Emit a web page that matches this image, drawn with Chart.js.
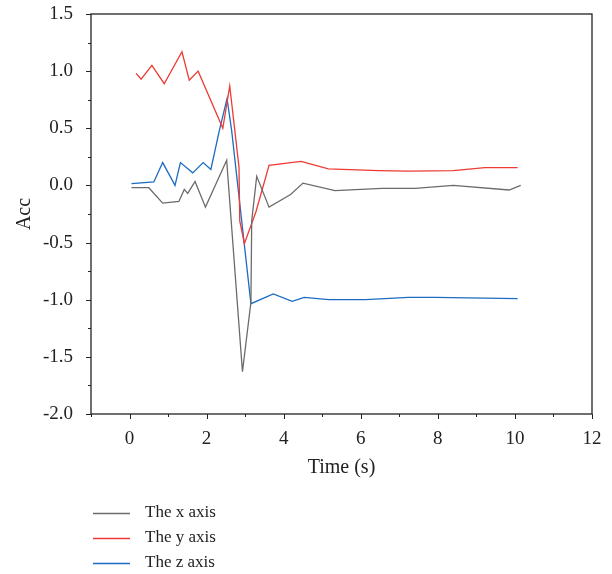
<!DOCTYPE html>
<html>
<head>
    <title>Acc vs Time</title>
    <script src="https://cdn.jsdelivr.net/npm/chart.js"></script>
    <style>
      body { margin: 0; background: #fff; }
    </style>
</head>
<body>
    <canvas id="chart" width="612" height="574"></canvas>

    <script>
    // x axis acceleration
    const xTime = [0.05, 0.5, 0.86, 1.28, 1.42, 1.51, 1.70, 1.97, 2.52, 2.93, 3.15, 3.17, 3.30, 3.62, 4.18, 4.5, 5.33, 6.55, 7.41, 8.4, 9.85, 10.15];
    const xAcc  = [-0.02, -0.02, -0.155, -0.14, -0.035, -0.07, 0.035, -0.19, 0.22, -1.63, -1.02, -0.31, 0.08, -0.19, -0.08, 0.02, -0.045, -0.025, -0.025, 0.0, -0.04, 0.0];

    // y axis acceleration
    const yTime = [0.17, 0.30, 0.58, 0.90, 1.36, 1.55, 1.78, 2.42, 2.60, 2.84, 2.86, 2.98, 3.28, 3.62, 4.45, 5.16, 6.46, 7.24, 8.4, 9.22, 10.07];
    const yAcc  = [0.98, 0.93, 1.05, 0.89, 1.17, 0.92, 1.00, 0.50, 0.87, 0.16, -0.31, -0.51, -0.23, 0.175, 0.21, 0.145, 0.13, 0.125, 0.13, 0.155, 0.155];

    // z axis acceleration
    const zTime = [0.05, 0.63, 0.86, 1.18, 1.32, 1.64, 1.91, 2.11, 2.33, 2.53, 2.65, 3.15, 3.73, 4.22, 4.53, 5.17, 6.12, 7.24, 7.93, 10.07];
    const zAcc  = [0.015, 0.03, 0.2, 0.0, 0.2, 0.11, 0.2, 0.14, 0.48, 0.76, 0.48, -1.035, -0.95, -1.015, -0.98, -1.0, -1.0, -0.98, -0.98, -0.99];

    const seriesNames = ['The x axis', 'The y axis', 'The z axis'];

    const pairs = (t, v) => t.map((x, i) => ({ x: x, y: v[i] }));

    const FONT = "'Liberation Serif', 'DejaVu Serif', serif";
    const INK = '#222';

    // box frame, outward ticks (major/minor) and legend below the plot
    const decor = {
      id: 'decor',
      afterDraw(chart) {
        const ctx = chart.ctx;
        const a = chart.chartArea;
        ctx.save();
        ctx.strokeStyle = INK;
        ctx.lineWidth = 1.3;
        ctx.strokeRect(a.left, a.top, a.right - a.left, a.bottom - a.top);

        ctx.lineWidth = 1;
        const xs = chart.scales.x, ys = chart.scales.y;
        ctx.beginPath();
        xs.ticks.forEach(t => {
          const px = Math.round(xs.getPixelForValue(t.value)) + 0.5;
          const len = t.label !== '' ? 5 : 3;
          ctx.moveTo(px, a.bottom);
          ctx.lineTo(px, a.bottom + len);
        });
        ys.ticks.forEach(t => {
          const py = Math.round(ys.getPixelForValue(t.value)) + 0.5;
          const len = t.label !== '' ? 5 : 3;
          ctx.moveTo(a.left, py);
          ctx.lineTo(a.left - len, py);
        });
        ctx.stroke();

        // legend
        ctx.font = '17px ' + FONT;
        ctx.textBaseline = 'middle';
        ctx.fillStyle = INK;
        chart.data.datasets.forEach((ds, i) => {
          const y = a.bottom + 99 + i * 25;
          ctx.strokeStyle = ds.borderColor;
          ctx.lineWidth = 1.3;
          ctx.beginPath();
          ctx.moveTo(a.left + 2, y + 0.5);
          ctx.lineTo(a.left + 39, y + 0.5);
          ctx.stroke();
          ctx.fillText(ds.label, a.left + 54, y);
        });
        ctx.restore();
      }
    };

    const ctx = document.getElementById('chart').getContext('2d');
    const chart = new Chart(ctx, {
      type: 'line',
      data: {
        datasets: [
          { label: seriesNames[0], data: pairs(xTime, xAcc), borderColor: '#6b6b6b' },
          { label: seriesNames[1], data: pairs(yTime, yAcc), borderColor: '#ee3a34' },
          { label: seriesNames[2], data: pairs(zTime, zAcc), borderColor: '#1b6cc2' }
        ]
      },
      options: {
        responsive: false,
        animation: false,
        layout: { padding: { left: 0, right: 20, top: 14, bottom: 90 } },
        elements: {
          point: { radius: 0 },
          line: { borderWidth: 1.3, tension: 0, fill: false }
        },
        plugins: {
          legend: { display: false },
          tooltip: { enabled: false }
        },
        scales: {
          x: {
            type: 'linear',
            min: -1, max: 12,
            afterFit: s => { s.height = 70; },
            grid: { drawOnChartArea: false, drawTicks: true, tickLength: 5, tickColor: 'rgba(0,0,0,0)' },
            border: { display: false },
            ticks: {
              stepSize: 1, autoSkip: false, maxRotation: 0, padding: 9,
              color: INK, font: { family: FONT, size: 19 },
              callback: v => (v % 2 === 0 ? String(v) : '')
            },
            title: {
              display: true, text: 'Time (s)', color: INK,
              font: { family: FONT, size: 20 }, padding: { top: 0, bottom: 4 }
            }
          },
          y: {
            type: 'linear',
            min: -2, max: 1.5,
            afterFit: s => { s.width = 91; s.paddingTop = 0; s.paddingBottom = 0; },
            grid: { drawOnChartArea: false, drawTicks: true, tickLength: 5, tickColor: 'rgba(0,0,0,0)' },
            border: { display: false },
            ticks: {
              stepSize: 0.25, autoSkip: false, padding: 13,
              color: INK, font: { family: FONT, size: 19 },
              callback: v => (Math.abs(v * 2 - Math.round(v * 2)) < 1e-6 ? v.toFixed(1) : '')
            },
            title: {
              display: true, text: 'Acc', color: INK,
              font: { family: FONT, size: 20 }, padding: { top: 13, bottom: 0 }
            }
          }
        }
      },
      plugins: [decor]
    });
    </script>
</body>
</html>
